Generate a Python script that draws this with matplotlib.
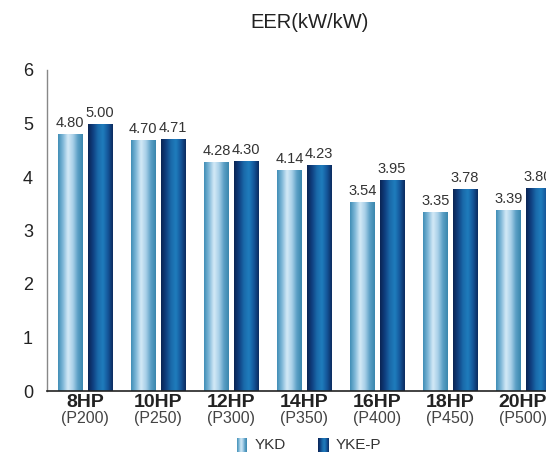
import matplotlib
matplotlib.use("Agg")
import matplotlib.pyplot as plt
import numpy as np
from matplotlib.colors import LinearSegmentedColormap
from matplotlib.patches import Rectangle

plt.rcParams['font.family'] = ['Liberation Sans', 'DejaVu Sans']

categories = ["8HP", "10HP", "12HP", "14HP", "16HP", "18HP", "20HP"]
models = ["(P200)", "(P250)", "(P300)", "(P350)", "(P400)", "(P450)", "(P500)"]
ykd = [4.80, 4.70, 4.28, 4.14, 3.54, 3.35, 3.39]
ykep = [5.00, 4.71, 4.30, 4.23, 3.95, 3.78, 3.80]
series_names = ["YKD", "YKE-P"]
title = "EER(kW/kW)"

W, H = 546, 455
fig = plt.figure(figsize=(W / 100, H / 100), dpi=100)
ax = fig.add_axes([47 / W, 1 - 391 / H, 1 - 47 / W, (391 - 70) / H])

cmap_ykd = LinearSegmentedColormap.from_list(
    "ykd", ["#3f8db5", "#7fb8d8", "#d4eaf7", "#a9d0e8", "#5a9fc5", "#3a86ad"])
cmap_ykep = LinearSegmentedColormap.from_list(
    "ykep", ["#0a2352", "#0f3f80", "#1a6aaa", "#1f7dbd", "#14569a", "#0b2a5e"])

grad = np.linspace(0, 1, 256).reshape(1, -1)
x = np.arange(len(categories))
bw = 0.33
off = 0.2

def gbar(xc, h, cmap):
    r = Rectangle((xc - bw / 2, 0), bw, h, facecolor="none", edgecolor="none")
    ax.add_patch(r)
    im = ax.imshow(grad, extent=(xc - bw / 2, xc + bw / 2, 0, h), aspect="auto",
                   cmap=cmap, interpolation="bicubic", zorder=2)
    im.set_clip_path(r)

lblfont = dict(fontsize=10.5, color="#333333")
for i in range(len(categories)):
    gbar(x[i] - off, ykd[i], cmap_ykd)
    gbar(x[i] + off, ykep[i], cmap_ykep)
    ax.text(x[i] - off, ykd[i] + 0.07, f"{ykd[i]:.2f}", ha="center", va="bottom", **lblfont)
    ax.text(x[i] + off, ykep[i] + 0.07, f"{ykep[i]:.2f}", ha="center", va="bottom", **lblfont)

ax.set_xlim(-0.52, (W - 85) / 73)
ax.set_ylim(0, 6)
ax.set_yticks(range(0, 7))
ax.set_yticklabels([str(v) for v in range(0, 7)], fontsize=13, color="#222222")
ax.tick_params(axis="y", length=0, pad=10)
ax.set_xticks([])
for s in ["top", "right"]:
    ax.spines[s].set_visible(False)
ax.spines["left"].set_color("#888888")
ax.spines["left"].set_linewidth(1.0)
ax.spines["bottom"].set_color("#222222")
ax.spines["bottom"].set_linewidth(1.2)

for i in range(len(categories)):
    ax.text(x[i], -0.06, categories[i], ha="center", va="top", fontsize=14,
            fontweight="bold", color="#222222", clip_on=False)
    ax.text(x[i], -0.37, models[i], ha="center", va="top", fontsize=11.5,
            color="#444444", clip_on=False)

fig.text(310 / W, 1 - 22 / H, title, ha="center", va="center", fontsize=14.5, color="#222222")

# legend
lx = [(237, 255), (318, 336)]
cms = [cmap_ykd, cmap_ykep]
for (px, tx), cm, name in zip(lx, cms, series_names):
    lax = fig.add_axes([px / W, 1 - 452 / H, 10 / W, 14 / H])
    lax.imshow(grad, aspect="auto", cmap=cm, interpolation="bicubic")
    lax.axis("off")
    fig.text(tx / W, 1 - 445 / H, name, ha="left", va="center", fontsize=11, color="#333333")

fig.savefig("out.png", dpi=100)
